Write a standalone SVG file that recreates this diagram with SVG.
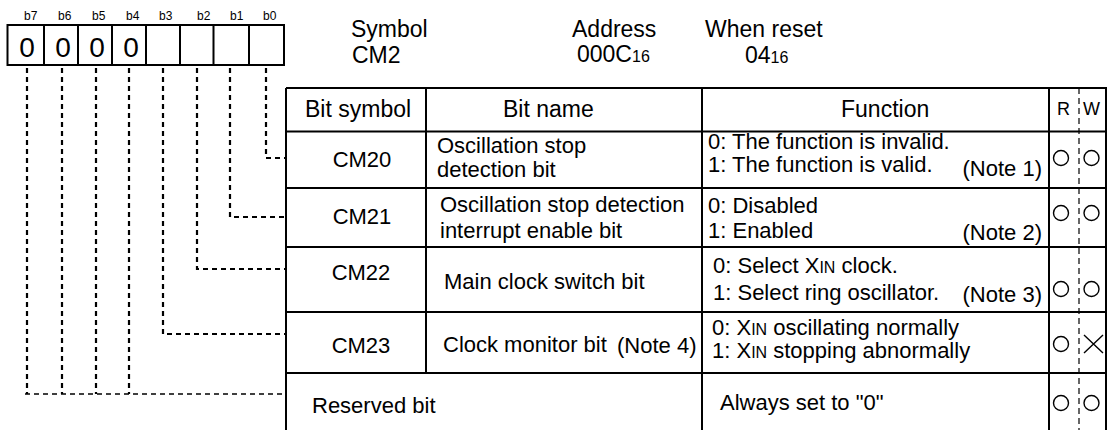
<svg xmlns="http://www.w3.org/2000/svg" width="1107" height="430" viewBox="0 0 1107 430">
<style>
text{font-family:"Liberation Sans",Arial,sans-serif;fill:#000}
.t{font-size:22px}
.h{font-size:23px}
.sm{font-size:16px}
.rwl{font-size:18px}
.bl{font-size:12px}
.dg{font-size:28px}
.ln{stroke:#000;stroke-width:2;fill:none}
.dv{stroke:#000;stroke-width:2.2;fill:none;stroke-dasharray:5 4}
.dh{stroke:#000;stroke-width:1.6;fill:none;stroke-dasharray:5 4}
.rw{stroke:#000;stroke-width:1.2;fill:none;stroke-dasharray:6 4}
.c{stroke:#000;stroke-width:1.4;fill:none}
</style>
<rect width="1107" height="430" fill="#fff"/>
<g id="register">
<g class="bl">
<text x="24" y="20">b7</text><text x="58" y="20">b6</text><text x="92" y="20">b5</text><text x="126" y="20">b4</text>
<text x="159" y="20">b3</text><text x="197" y="20">b2</text><text x="230" y="20">b1</text><text x="263" y="20">b0</text>
</g>
<rect x="7.5" y="25" width="276.5" height="40" class="ln"/>
<path d="M44 25V65M78 25V65M112 25V65M146 25V65M180 25V65M213.5 25V65M249 25V65" class="ln"/>
<g class="dg" text-anchor="middle">
<text x="27" y="57">0</text><text x="63" y="57">0</text><text x="97" y="57">0</text><text x="131" y="57">0</text>
</g>
</g>
<g id="heading">
<text class="h" x="351" y="37">Symbol</text>
<text class="h" x="352" y="63">CM2</text>
<text class="h" x="572" y="37">Address</text>
<text class="h" x="577" y="62">000C<tspan class="sm">16</tspan></text>
<text class="h" x="705" y="37">When reset</text>
<text class="h" x="745" y="63">04<tspan class="sm">16</tspan></text>
</g>
<g id="connectors">
<path d="M266 68V158H286" class="dv"/>
<path d="M230 68V217H286" class="dv"/>
<path d="M197 68V269H286" class="dv"/>
<path d="M163 68V334H286" class="dv"/>
<path d="M129 68V394M96 68V394M62 68V394M27 68V394" class="dv"/>
<path d="M25 394H286" class="dh"/>
</g>
<g id="table">
<path d="M286 88H1107M286 88V431M286 131.5H1107M286 188H1107M286 247H1107M286 312H1107M286 373H1107M426 88V373M702 88V431M1049 88V431M1106 88V431" class="ln"/>
<path d="M1079 88V431" class="rw"/>
<g class="h">
<text x="305" y="117">Bit symbol</text>
<text x="503" y="117">Bit name</text>
<text x="841" y="117">Function</text>
</g>
<text class="rwl" x="1057" y="115">R</text>
<text class="rwl" x="1083" y="115">W</text>
</g>
<g id="row-cm20" class="t">
<text x="362" y="167" text-anchor="middle">CM20</text>
<text x="437" y="153">Oscillation stop</text>
<text x="437" y="177">detection bit</text>
<text x="708" y="149">0: The function is invalid.</text>
<text x="708" y="172">1: The function is valid.</text>
<text x="1042" y="176" text-anchor="end">(Note 1)</text>
<circle cx="1061" cy="158" r="7.5" class="c"/><circle cx="1091.5" cy="158" r="7.5" class="c"/>
</g>
<g id="row-cm21" class="t">
<text x="362" y="224" text-anchor="middle">CM21</text>
<text x="440" y="212">Oscillation stop detection</text>
<text x="440" y="238">interrupt enable bit</text>
<text x="708" y="213">0: Disabled</text>
<text x="708" y="238">1: Enabled</text>
<text x="1042" y="240" text-anchor="end">(Note 2)</text>
<circle cx="1061" cy="213" r="7.5" class="c"/><circle cx="1091.5" cy="213" r="7.5" class="c"/>
</g>
<g id="row-cm22" class="t">
<text x="361" y="280" text-anchor="middle">CM22</text>
<text x="444" y="289">Main clock switch bit</text>
<text x="713" y="273">0: Select X<tspan class="sm">IN</tspan> clock.</text>
<text x="713" y="300">1: Select ring oscillator.</text>
<text x="1042" y="302" text-anchor="end">(Note 3)</text>
<circle cx="1061" cy="289" r="7.5" class="c"/><circle cx="1091.5" cy="289" r="7.5" class="c"/>
</g>
<g id="row-cm23" class="t">
<text x="361" y="353" text-anchor="middle">CM23</text>
<text x="443" y="352">Clock monitor bit</text>
<text x="617" y="353">(Note 4)</text>
<text x="712" y="335">0: X<tspan class="sm">IN</tspan> oscillating normally</text>
<text x="712" y="358">1: X<tspan class="sm">IN</tspan> stopping abnormally</text>
<circle cx="1061" cy="344" r="7.5" class="c"/>
<path d="M1084 335L1103 353M1103 335L1084 353" class="c"/>
</g>
<g id="row-reserved" class="t">
<text x="312" y="413">Reserved bit</text>
<text x="720" y="410">Always set to "0"</text>
<circle cx="1061" cy="403" r="7.5" class="c"/><circle cx="1091.5" cy="403" r="7.5" class="c"/>
</g>
</svg>
